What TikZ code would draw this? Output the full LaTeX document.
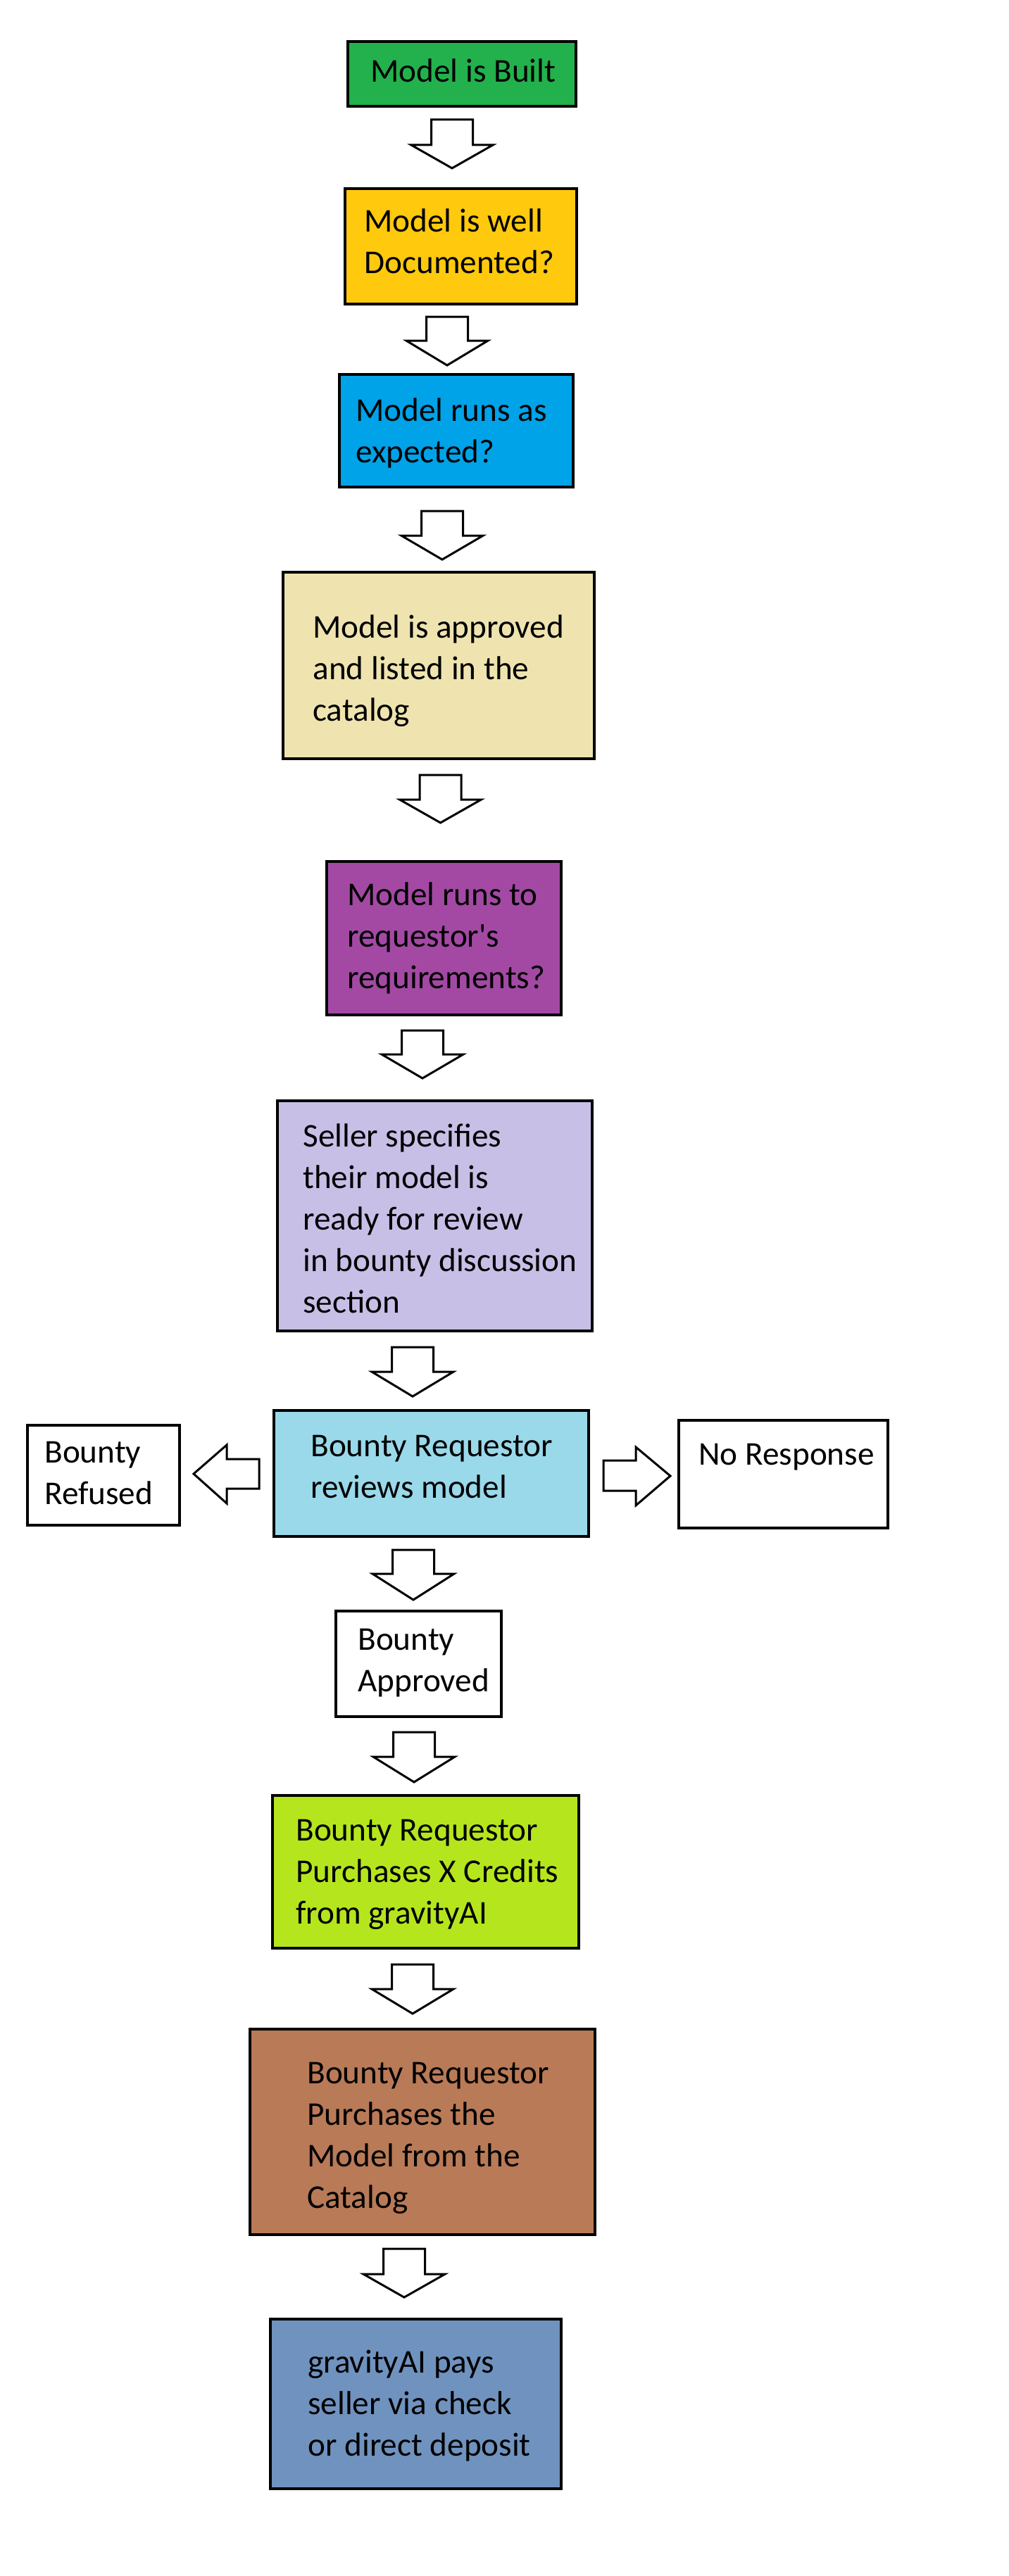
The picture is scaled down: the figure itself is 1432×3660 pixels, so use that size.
\documentclass[tikz,border=0pt]{standalone}
\usepackage{fontspec}
\setmainfont{Carlito}
\definecolor{cgreen}{HTML}{22B14C}
\definecolor{corange}{HTML}{FFC90E}
\definecolor{cblue}{HTML}{00A2E8}
\definecolor{ccream}{HTML}{EFE4B0}
\definecolor{cpurple}{HTML}{A349A4}
\definecolor{clav}{HTML}{C8BFE7}
\definecolor{cturq}{HTML}{99D9EA}
\definecolor{clime}{HTML}{B5E61D}
\definecolor{cbrown}{HTML}{B97A57}
\definecolor{csteel}{HTML}{7092BE}
\tikzset{
  box/.style={draw=black, line width=2pt},
  barrow/.style={draw=black, line width=1.5pt, fill=white, line join=miter},
  txt/.style={anchor=base west, inner sep=0pt, font=\fontsize{23.6pt}{29.5pt}\selectfont},
}
\newcommand\ml[1]{\begin{tabular}[t]{@{}l@{}}#1\end{tabular}}
% down block arrow: centre x, top y, head base y, tip y
\newcommand\dnarrow[4]{%
  \draw[barrow] ({#1-29.5},#2) -- ({#1+29.5},#2) -- ({#1+29.5},#3) -- ({#1+58},#3)
    -- (#1,#4) -- ({#1-58},#3) -- ({#1-29.5},#3) -- cycle;}
\begin{document}
\begin{tikzpicture}[x=0.5pt,y=-0.5pt]
\fill[white] (0,0) rectangle (1432,3660);
\useasboundingbox (0,0) rectangle (1432,3660);

% boxes
\draw[box,fill=cgreen]  (494,59)   coordinate (b1)  rectangle (818,151);
\draw[box,fill=corange] (490,268)  coordinate (b2)  rectangle (819,432);
\draw[box,fill=cblue]   (482,532)  coordinate (b3)  rectangle (814,692);
\draw[box,fill=ccream]  (402,813)  coordinate (b4)  rectangle (844,1078);
\draw[box,fill=cpurple] (464,1224) coordinate (b5)  rectangle (797,1442);
\draw[box,fill=clav]    (394,1564) coordinate (b6)  rectangle (841,1891);
\draw[box,fill=cturq]   (389,2004) coordinate (b7)  rectangle (836,2183);
\draw[box,fill=white]   (39,2025)  coordinate (b8)  rectangle (255,2167);
\draw[box,fill=white]   (964,2018) coordinate (b9)  rectangle (1261,2171);
\draw[box,fill=white]   (477,2289) coordinate (b10) rectangle (712,2439);
\draw[box,fill=clime]   (387,2551) coordinate (b11) rectangle (822,2768);
\draw[box,fill=cbrown]  (355,2883) coordinate (b12) rectangle (845,3175);
\draw[box,fill=csteel]  (384,3295) coordinate (b13) rectangle (797,3536);

% texts
\node[txt] (t1)  at (526,117)  {Model is Built};
\node[txt] (t2)  at (517,330)  {\ml{Model is well\\Documented?}};
\node[txt] (t3)  at (505,598)  {\ml{Model runs as\\expected?}};
\node[txt] (t4)  at (444,906)  {\ml{Model is approved\\and listed in the\\catalog}};
\node[txt] (t5)  at (493,1286) {\ml{Model runs to\\requestor\textquotesingle s\\requirements?}};
\node[txt] (t6)  at (430,1629) {\ml{Seller specifies\\their model is\\ready for review\\in bounty discussion\\section}};
\node[txt] (t7)  at (441,2069) {\ml{Bounty Requestor\\reviews model}};
\node[txt] (t8)  at (63,2078)  {\ml{Bounty\\Refused}};
\node[txt] (t9)  at (992,2081) {No Response};
\node[txt] (t10) at (508,2344) {\ml{Bounty\\Approved}};
\node[txt] (t11) at (420,2615) {\ml{Bounty Requestor\\Purchases X Credits\\from gravityAI}};
\node[txt] (t12) at (436,2960) {\ml{Bounty Requestor\\Purchases the\\Model from the\\Catalog}};
\node[txt] (t13) at (437,3371) {\ml{gravityAI pays\\seller via check\\or direct deposit}};

% down arrows
\dnarrow{642}{170}{206}{239}
\dnarrow{635}{450}{484}{519}
\dnarrow{628}{726}{761}{795}
\dnarrow{625.5}{1101}{1136}{1169}
\dnarrow{600}{1464}{1498}{1532}
\dnarrow{586}{1914}{1949}{1984}
\dnarrow{587}{2202}{2236}{2273}
\dnarrow{588}{2461}{2496}{2532}
\dnarrow{586}{2791}{2826}{2861}
\dnarrow{574}{3195}{3231}{3264}

% left arrow (to Bounty Refused)
\draw[barrow] (368,2073) -- (368,2115) -- (322,2115) -- (322,2136) -- (275,2094)
  -- (322,2053) -- (322,2073) -- cycle;
% right arrow (to No Response)
\draw[barrow] (857,2075) -- (903,2075) -- (903,2056) -- (952,2097) -- (903,2139)
  -- (903,2118) -- (857,2118) -- cycle;
\end{tikzpicture}
\end{document}
